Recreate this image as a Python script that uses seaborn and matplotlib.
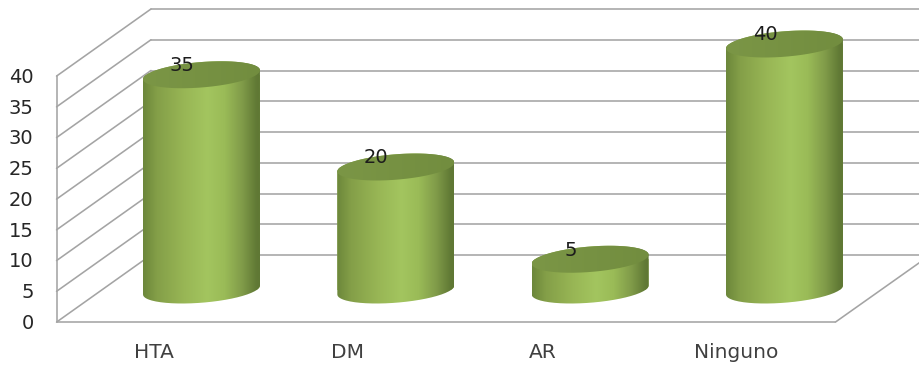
import numpy as np
import pandas as pd
import matplotlib
matplotlib.use("Agg")
import matplotlib.pyplot as plt
import seaborn as sns
from matplotlib.colors import LinearSegmentedColormap
from matplotlib.patches import PathPatch
from matplotlib.path import Path

categories = ["HTA", "DM", "AR", "Ninguno"]
values = [35, 20, 5, 40]
axis_ticks = [0, 5, 10, 15, 20, 25, 30, 35, 40]

# Perspective of the box: value offsets of the front and back planes, x limits of the walls
FRONT_DY, BACK_DY = -5.22, 5.69
FRONT_LEFT, BACK_LEFT = -0.746, -0.26
FRONT_RIGHT, BACK_RIGHT = 3.262, 3.75
GRID = "#a4a4a4"

# Cylinder cap shape, in axis units
CAP_WIDTH = 0.602
CAP_SHEAR = 0.73
CAP_MINOR = 2.07

side_cmap = LinearSegmentedColormap.from_list("side", [
    (0.00, "#6c873b"), (0.12, "#849f48"), (0.35, "#98b655"), (0.55, "#a3c55f"),
    (0.70, "#9abb57"), (0.85, "#809b49"), (0.97, "#617a35"), (1.00, "#5f7734")])
cap_cmap = LinearSegmentedColormap.from_list("cap", ["#7b9646", "#728d3f"])

sns.set_theme(style="white")
plt.rcParams["font.family"] = ["DejaVu Sans"]

fig = plt.figure(figsize=(9.2, 3.67), dpi=100)
ax = fig.add_axes([0, 0, 1, 1])
df = pd.DataFrame({"categoria": categories, "valor": values})
sns.barplot(data=df, x="categoria", y="valor", width=CAP_WIDTH, color="#94b153",
            saturation=1, linewidth=0, ax=ax, zorder=3)
xlim = (-201.5 / 194.33, 718.5 / 194.33)
ylim = (-77 / 6.15, 290 / 6.15)


def cap_points(cx, cy, half, start, stop, n=80):
    t = np.linspace(start, stop, n)
    return np.column_stack((cx + half * np.cos(t),
                            cy + CAP_SHEAR * np.cos(t) + CAP_MINOR * np.sin(t)))


def shaded(cmap, bounds, outline, zorder):
    clip = PathPatch(Path(np.vstack((outline, outline[:1]))), transform=ax.transData)
    ramp = np.linspace(0, 1, 256).reshape(1, -1)
    img = ax.imshow(ramp, cmap=cmap, aspect="auto", extent=bounds, zorder=zorder,
                    interpolation="bilinear")
    img.set_clip_path(clip)


# Walls and floor
for tick in axis_ticks:
    ax.plot([FRONT_LEFT, BACK_LEFT], [tick + FRONT_DY, tick + BACK_DY], color=GRID, lw=1.15, zorder=1)
    ax.plot([BACK_LEFT, BACK_RIGHT], [tick + BACK_DY] * 2, color=GRID, lw=1.15, zorder=1)
ax.plot([FRONT_LEFT, FRONT_LEFT], [axis_ticks[0] + FRONT_DY, axis_ticks[-1] + FRONT_DY],
        color=GRID, lw=1.15, zorder=1)
ax.plot([FRONT_LEFT, FRONT_RIGHT], [FRONT_DY, FRONT_DY], color=GRID, lw=1.15, zorder=1)
ax.plot([FRONT_RIGHT, BACK_RIGHT], [FRONT_DY, BACK_DY], color=GRID, lw=1.15, zorder=1)

# Cylinders built on the bars that seaborn placed
for bar, value in zip(ax.patches, values):
    half = bar.get_width() / 2
    cx = bar.get_x() + half
    top = bar.get_height()
    lower = cap_points(cx, 0, half, np.pi, 2 * np.pi)
    upper = cap_points(cx, top, half, 0, np.pi)
    outline = np.vstack((lower, upper))
    bar.set_clip_path(PathPatch(Path(np.vstack((outline, outline[:1]))), transform=ax.transData))
    shaded(side_cmap, (cx - half, cx + half, -4, top + 4), outline, 4)
    rim = cap_points(cx, top, half, 0, 2 * np.pi, 160)
    shaded(cap_cmap, (cx - half, cx + half, top - 4, top + 4), rim, 5)
    ax.annotate(str(value), (cx, top), xytext=(-14, 6.5), textcoords="offset points",
                ha="center", va="center", fontsize=14, color="#1c1c1c", zorder=7)

# Value axis labels on the front edge, category labels under the floor
for tick in axis_ticks:
    ax.annotate(str(tick), (FRONT_LEFT, tick + FRONT_DY), xytext=(-16.5, -1),
                textcoords="offset points", ha="right", va="center",
                fontsize=14, color="#262626")
for i, name in enumerate(categories):
    ax.annotate(name, (i, FRONT_DY), xytext=(-34.5, -22.2), textcoords="offset points",
                ha="center", va="center", fontsize=14.5, color="#404040")

ax.set_xlim(xlim)
ax.set_ylim(ylim)
ax.set_axis_off()
fig.savefig("out.png", dpi=100)
